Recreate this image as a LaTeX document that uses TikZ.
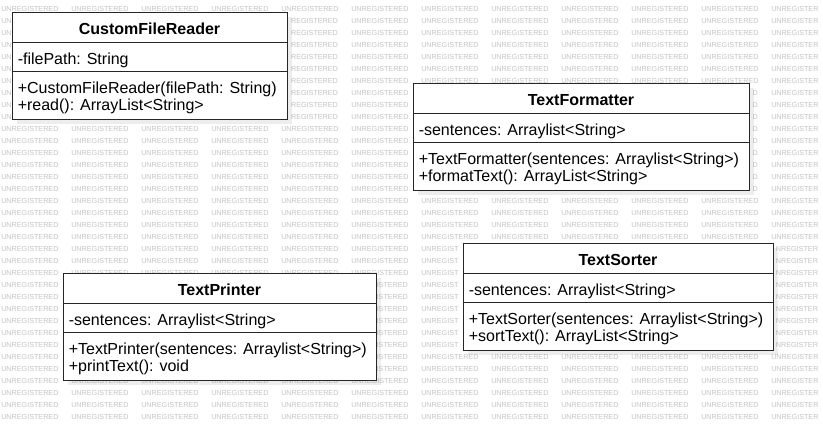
\documentclass[tikz,border=0pt]{standalone}
\usepackage{fontspec}
\setmainfont{Liberation Sans}
\usetikzlibrary{shadows}
\tikzset{
  classbox/.style={draw=black!85, line width=0.9pt, fill=white, inner sep=0pt,
    drop shadow={shadow xshift=3.5pt, shadow yshift=-3.5pt, fill=black, opacity=0.07}},
  divider/.style={draw=black!85, line width=0.9pt},
  titletext/.style={font=\fontsize{12}{14}\selectfont\bfseries, inner sep=0pt, anchor=base, text=black},
  membertext/.style={font=\fontsize{12}{14}\selectfont, inner sep=0pt, anchor=base west, text=black},
  watermark/.style={font=\fontsize{5.4}{6}\selectfont, text=black!23, inner sep=0pt, anchor=base west},
}
\newcommand{\umlclass}[8]{% name, left, top, right, title, attribute, method 1, method 2
  \node[classbox, minimum width={(#4-#2)*0.75pt}, minimum height={107*0.75pt}, anchor=north west] (#1) at (#2,#3) {};
  \node[titletext] (#1-title) at ({(#2+#4)/2},{#3+22}) {#5};
  \draw[divider] ({#2},{#3+30.5}) -- ({#4},{#3+30.5});
  \node[membertext] (#1-attr) at ({#2+5.5},{#3+52}) {#6};
  \draw[divider] ({#2},{#3+59.5}) -- ({#4},{#3+59.5});
  \node[membertext] (#1-m1) at ({#2+5.5},{#3+81}) {#7};
  \node[membertext] (#1-m2) at ({#2+5.5},{#3+98.5}) {#8};
}
% visible part of a watermark word cut by a box edge
\newcommand{\wmprefix}[1]{%
\ifdim#1pt<10.4pt U\else
\ifdim#1pt<15.6pt UN\else
\ifdim#1pt<20.4pt UNR\else
\ifdim#1pt<26pt UNRE\else
\ifdim#1pt<28pt UNREG\else
\ifdim#1pt<32.8pt UNREGI\else
\ifdim#1pt<37.2pt UNREGIS\else
\ifdim#1pt<42pt UNREGIST\else
\ifdim#1pt<47.2pt UNREGISTE\else
\ifdim#1pt<52pt UNREGISTER\else
UNREGISTERE\fi\fi\fi\fi\fi\fi\fi\fi\fi\fi}
\newcommand{\wmsuffix}[1]{%
\ifdim#1pt<10pt D\else
\ifdim#1pt<15.2pt ED\else
\ifdim#1pt<20pt RED\else
\ifdim#1pt<24.4pt ERED\else
\ifdim#1pt<29.2pt TERED\else
\ifdim#1pt<31.2pt STERED\else
\ifdim#1pt<36.8pt ISTERED\else
\ifdim#1pt<41.6pt GISTERED\else
\ifdim#1pt<46.8pt EGISTERED\else
\ifdim#1pt<52pt REGISTERED\else
NREGISTERED\fi\fi\fi\fi\fi\fi\fi\fi\fi\fi}
\newcommand{\wmsuffixlast}[1]{%
\ifdim#1pt<10pt R\else
\ifdim#1pt<14.4pt ER\else
\ifdim#1pt<19.2pt TER\else
\ifdim#1pt<21.2pt STER\else
\ifdim#1pt<26.8pt ISTER\else
\ifdim#1pt<31.6pt GISTER\else
\ifdim#1pt<36.8pt EGISTER\else
\ifdim#1pt<42pt REGISTER\else
NREGISTER\fi\fi\fi\fi\fi\fi\fi\fi}
\newcommand{\wmcheck}[4]{% left, top, right, bottom of a box
  \pgfmathtruncatemacro{\inrow}{(\wy-3>=#2)&&(\wy-3<=#4)}%
  \ifnum\inrow=1
    \pgfmathtruncatemacro{\cl}{(\wx<#1)&&(\wx+\wlen>#1)}%
    \pgfmathtruncatemacro{\cr}{(\wx<#3)&&(\wx+\wlen>#3)}%
    \pgfmathtruncatemacro{\ci}{(\wx>=#1)&&(\wx+\wlen<=#3)&&(\wy-6>=#2)&&(\wy<=#4)}%
    \ifnum\cl=1 \def\wmmode{1}\pgfmathsetmacro{\wmavail}{#1-\wx-0.5}\fi
    \ifnum\cr=1 \def\wmmode{2}\pgfmathsetmacro{\wmavail}{\wx+\wlen-#3-0.5}\fi
    \ifnum\ci=1 \def\wmmode{3}\fi
  \fi}
\begin{document}
\begin{tikzpicture}[x=0.75pt, y=-0.75pt]
  \fill[white] (0,0) rectangle (823,430);
  \useasboundingbox (0,0) rectangle (823,430);
  % background watermark (only its visible parts)
  \foreach \r in {0,...,34} {
    \foreach \c in {0,...,11} {
      \pgfmathsetmacro{\wx}{1+70*\c}
      \pgfmathsetmacro{\wy}{11.6+12*\r}
      \pgfmathsetmacro{\wlen}{\c==11 ? 47.2 : 57.2}
      \def\wmmode{0}\def\wmavail{0}
      \wmcheck{12}{12}{287}{119}
      \wmcheck{413}{83}{749}{190}
      \wmcheck{63}{273}{376}{380}
      \wmcheck{463}{243}{773}{350}
      \ifnum\wmmode=1 \ifdim\wmavail pt<5.2pt \def\wmmode{3}\fi\fi
      \ifnum\wmmode=2 \ifdim\wmavail pt<5.2pt \def\wmmode{3}\fi\fi
      \ifcase\wmmode
        \node[watermark] (wm-\r-\c) at (\wx,\wy) {\ifnum\c=11 UNREGISTER\else UNREGISTERED\fi};
      \or
        \node[watermark] (wm-\r-\c) at (\wx,\wy) {\wmprefix{\wmavail}};
      \or
        \node[watermark, anchor=base east] (wm-\r-\c) at ({\wx+\wlen},\wy) {\ifnum\c=11 \wmsuffixlast{\wmavail}\else\wmsuffix{\wmavail}\fi};
      \or
      \fi
    }
  }
  \umlclass{cfr}{12}{12}{287}{CustomFileReader}{-filePath: String}{+CustomFileReader(filePath: String)}{+read(): ArrayList<String>}
  \umlclass{tf}{413}{83}{749}{TextFormatter}{-sentences: Arraylist<String>}{+TextFormatter(sentences: Arraylist<String>)}{+formatText(): ArrayList<String>}
  \umlclass{tp}{63}{273}{376}{TextPrinter}{-sentences: Arraylist<String>}{+TextPrinter(sentences: Arraylist<String>)}{+printText(): void}
  \umlclass{ts}{463}{243}{773}{TextSorter}{-sentences: Arraylist<String>}{+TextSorter(sentences: Arraylist<String>)}{+sortText(): ArrayList<String>}
\end{tikzpicture}
\end{document}
